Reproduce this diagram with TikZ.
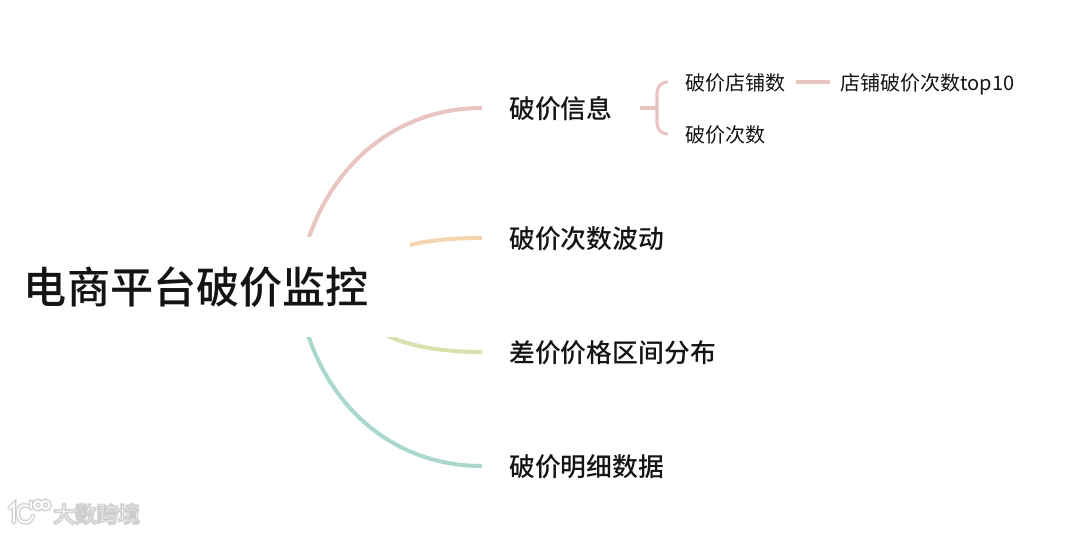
\documentclass[tikz,border=0pt]{standalone}
\usepackage{fontspec}
\setmainfont{Noto Sans CJK SC}
\newfontfamily\medfont{Noto Sans CJK SC Medium}
\usepackage{xcolor}
\usetikzlibrary{arrows.meta,positioning}
\definecolor{linkA}{RGB}{232, 197, 193}
\definecolor{linkB}{RGB}{245, 213, 176}
\definecolor{linkC}{RGB}{216, 224, 174}
\definecolor{linkD}{RGB}{171, 216, 206}
\definecolor{textclr}{RGB}{20, 20, 20}
\definecolor{markclr}{RGB}{205, 205, 205}
\definecolor{glowclr}{RGB}{236, 236, 236}
\tikzset{
  % Nodes
  rootlab/.style = {font=\medfont\fontsize{24.55}{28}\selectfont, textclr, inner sep=0pt},
  toplab/.style  = {font=\medfont\fontsize{14.7}{18}\selectfont, textclr, anchor=west, inner xsep=15.3pt, inner ysep=0pt, text height=13.5pt, text depth=1.44pt},
  sublab/.style  = {font=\fontsize{11.4}{14}\selectfont, textclr, anchor=west, inner xsep=5.67pt, inner ysep=0pt, text height=10.8pt, text depth=1.6pt},
  % Connectors
  toplink/.style = {line width=2.3pt},
  sublink/.style = {line width=1.8pt, linkA},
  % Watermark
  marklab/.style = {font=\medfont\fontsize{12.3}{14}\selectfont, inner sep=0pt},
  markglow/.style = {line width=3.4pt, glowclr, line cap=round},
  markout/.style = {line width=2.2pt, markclr, line cap=round},
  markin/.style  = {line width=1.1pt, white, line cap=round},
}
\begin{document}
\begin{tikzpicture}[x=0.02cm,y=-0.02cm]
  \useasboundingbox (0,0) rectangle (1080,533);
  % Root and first level
  \node[rootlab] (root) at (196.5,287) {电商平台破价监控};
  \node[toplab] (info) at (482,108) {破价信息};
  \node[toplab] (wave) at (482,238) {破价次数波动};
  \node[toplab] (gap) at (482,352) {差价价格区间分布};
  \node[toplab] (detail) at (482,466) {破价明细数据};
  % Second level
  \node[sublab] (shopcount) at (675,82) {破价店铺数};
  \node[sublab] (pricecount) at (675,134) {破价次数};
  \node[sublab] (shoptop) at (830,82) {店铺破价次数top10};
  % Curve ends at the root
  \coordinate (infostart) at (308,240);
  \coordinate (wavestart) at (410,245);
  \coordinate (gapstart) at (388,336);
  \coordinate (detailstart) at (308,335);
  \coordinate (fork) at (657,108);
  % Curves
  \begin{scope}
    \clip (0,0) rectangle (1080,237);
    \draw[toplink, linkA] (infostart) .. controls (335,160) and (400,108) .. (info.west);
  \end{scope}
  \draw[toplink, linkB] (wavestart) .. controls (430,240) and (455,238) .. (wave.west);
  \begin{scope}
    \clip (0,338) rectangle (1080,533);
    \draw[toplink, linkC] (gapstart) .. controls (412,347) and (445,352) .. (gap.west);
    \draw[toplink, linkD] (detailstart) .. controls (335,415) and (400,466) .. (detail.west);
  \end{scope}
  % Bracket
  \draw[sublink] (info.east) -- (fork);
  \draw[sublink, rounded corners=6pt, shorten <=4pt, shorten >=4pt] (shopcount.west) -| (fork) |- (pricecount.west);
  \draw[sublink] (shopcount.east) -- (shoptop.west);
  % Watermark
  \foreach \layer in {markglow,markout,markin}{
    \draw[\layer] (10,508) -- (14,504) -- (14,522);
    \draw[\layer] (28,506) .. controls (20,503) and (16,510) .. (18,516) .. controls (20,524) and (30,525) .. (33,516);
    \draw[\layer] (31,502) -- (31,508);
    \draw[\layer] (38,505) circle (4);
    \draw[\layer] (45.5,505) circle (4);
  }
  \node[marklab, text=white] (markhalo) at (96.5,514) {\special{pdf:code q 2 Tr 0.925 0.925 0.925 RG 1.6 w}大数跨境\special{pdf:code Q}};
  \node[marklab, text=white] (markname) at (96.5,514) {\special{pdf:code q 2 Tr 0.8 0.8 0.8 RG 0.7 w}大数跨境\special{pdf:code Q}};
\end{tikzpicture}
\end{document}
